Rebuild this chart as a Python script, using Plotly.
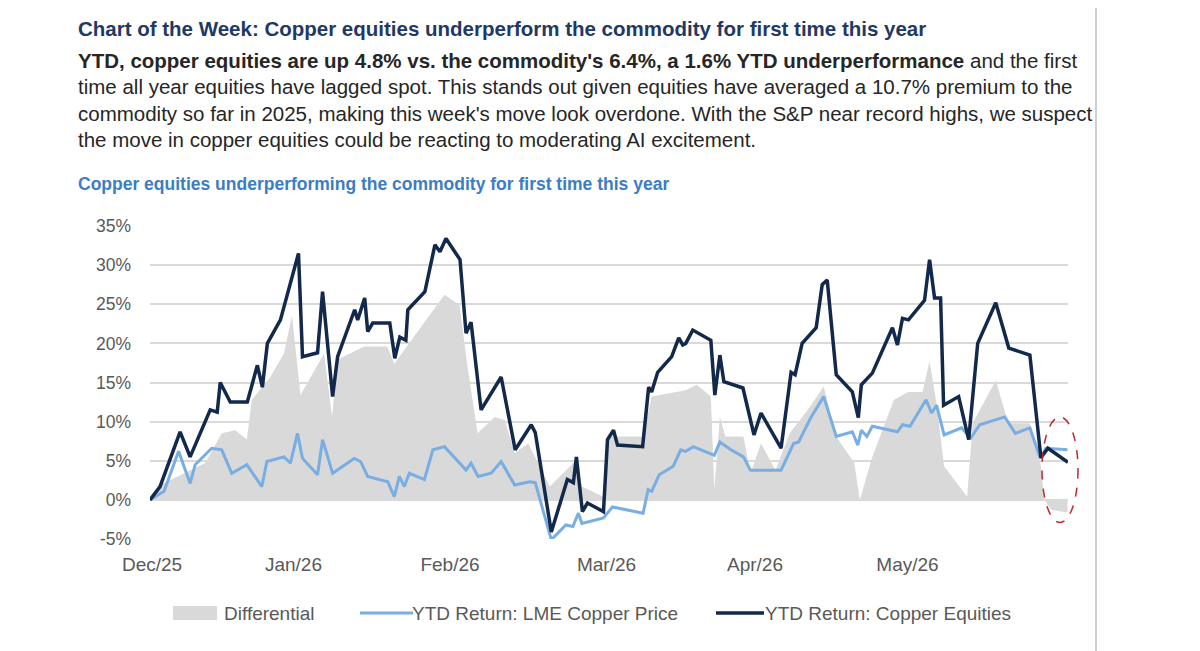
import plotly.graph_objects as go

eq_day = [0,2,6,8,12,13.4,14,16,19.4,21.4,22.4,23.4,26,29.6,30.4,33.4,34.4,36.4,37.4,40.8,41.4,42.8,43.4,44.4,47.8,48.8,49.8,51,51.4,54.8,56.8,57.8,59,61.8,63,64,66,70,72.8,76,
          76.8,80,83.2,84.4,85,86.2,87.2,90.4,91.2,92.4,93.2,98.2,99.4,100,101.2,104,105.4,106.2,106.8,108.2,111.8,112.6,113.6,114.4,118.2,120.4,121.8,125.8,127.8,128.6,130,132.8,134,135,136.8,140,141.2,141.8,144,148,149,150,151.2,154.4,155.4,156.4,157.6,158.2,161.2,163.2,165,168.6,171.2,175.4,177.6,179,183]
eq_val = [0,1.7,8.7,5.5,11.5,11.2,15,12.5,12.5,17.2,14.4,20,23,31.5,18.3,18.8,26.6,13.2,18.3,24.3,23,25.8,21.5,22.6,22.6,18.1,20.8,20.4,24.3,26.6,32.6,31.7,33.4,30.7,21.3,22.7,11.5,15.7,6.4,9.6,
          8.6,-4.1,2.6,2.2,5.5,-1.5,-0.4,-1.5,7.7,8.9,7,6.8,14.4,13.8,16.3,18.3,20.7,19.8,20,21.7,20.4,13.4,18.5,15.1,14.3,8.3,11.1,6.6,16.3,16,20,22,27.5,28.1,16,13.8,10.5,14.7,16.2,22,19.8,23.2,23,25.5,30.7,25.8,25.8,12.1,13.2,7.7,20,25.2,19.4,18.5,5.4,6.6,4.8]

lme_day = [0,2.8,5.7,8,9,12.3,14.3,16.3,19.3,22.3,23.3,26.7,28,29.4,30.4,33.4,34.4,36.4,40.7,42,43.4,47.4,48.7,49.7,50.7,51.7,54.7,56.4,58.7,63,64,65.4,68,70,72.7,75.7,
           76.8,80,82.9,84.3,85.4,86.1,90.4,92.2,98.3,99.3,100,101.5,104.3,105.8,106.8,108.3,112.5,113.6,115.8,118.3,119.7,125.8,128.3,129.3,131.8,134.3,136.8,140,141.1,141.8,142.9,144,149,150,151.5,154.7,155.8,156.8,158.3,161.8,163.6,165.4,170.4,172.5,175.4,177.5,178.6,182.9]
lme_val = [0,1.1,6.2,2.1,4.5,6.6,6.4,3.4,4.5,1.7,4.9,5.5,4.7,8.5,5.3,3.2,7.7,3.4,5.3,4.9,3.0,2.3,0.4,3.0,1.7,3.4,2.6,6.4,6.8,3.8,4.7,3.0,3.4,4.9,1.9,2.3,
           2.2,-5.1,-3.2,-3.4,-1.7,-3.0,-2.3,-0.9,-1.7,1.3,1.1,3.2,4.3,6.4,6.2,6.8,5.7,7.4,6.4,5.5,3.8,3.8,7.2,7.4,10.6,13.2,8.1,8.7,7.0,8.9,8.1,9.4,8.7,9.6,9.4,12.8,11.1,12.1,8.3,9.2,7.9,9.6,10.6,8.5,9.2,5.3,6.6,6.4]

diff_day = [0,2,11,14.3,17,19.3,20.3,24,26.7,28.3,30,33.3,34.7,36.3,37.3,42.7,47.3,48.7,54.7,58.7,61.7,63.3,65.3,68.7,70.7,72.7,75.4,
            79.7,84.7,86.1,90.4,91.5,98.3,100,106.8,109,111.8,112.5,113.6,114.7,118.3,119.7,121.8,124.7,127.5,131.1,134.3,136.8,140.4,141.5,144,148.3,151.1,154,155.4,156.8,158.3,162.9,164,168.6,171.1,175.4,177.5,178.3,179.7,182.9]
diff_val = [0,1.9,4.7,8.5,8.9,7.7,12.8,15.7,18.7,23.6,13.4,17,18.7,10.6,17.9,19.6,19.6,17.4,22.6,26.2,24.9,17,8.5,10.6,10.2,6,7.2,
            1.7,4.9,1.7,0.4,8.1,8.1,13.2,14,14.7,13.2,1.3,10.6,8.1,8.1,3.4,7.2,3.8,8.5,11.5,14.5,8.1,4.7,0,5.5,12.8,13.8,13.8,17.7,12.3,4.3,0.4,9.8,15.3,9.8,9.8,4.7,0,-1.3,-1.6]

tick_pos = [0.4, 28.6, 59.8, 91, 120.6, 151]
tick_text = ["Dec/25", "Jan/26", "Feb/26", "Mar/26", "Apr/26", "May/26"]
y_ticks = [-5, 0, 5, 10, 15, 20, 25, 30, 35]

NAVY = "#13294b"
LIGHT = "#78aee2"
GRAY = "#d9d9d9"
FONT = "Liberation Sans, Arial, sans-serif"

fig = go.Figure()
fig.add_trace(go.Scatter(x=diff_day, y=diff_val, fill="tozeroy", mode="lines",
                         line=dict(width=0, color=GRAY), fillcolor=GRAY, name="Differential"))
fig.add_trace(go.Scatter(x=lme_day, y=lme_val, mode="lines", line=dict(color=LIGHT, width=3),
                         name="YTD Return: LME Copper Price"))
fig.add_trace(go.Scatter(x=eq_day, y=eq_val, mode="lines", line=dict(color=NAVY, width=3.5),
                         name="YTD Return: Copper Equities"))

DX, DY = -10, -8   # page body offset compensation
L, R, T, B = 152, 1070, 226, 539
W, H = R - L, B - T
def px(x): return (x - L) / W
def py(y): return (B - y) / H

anns = []
def txt(x, y, s, size, color, bold=False, anchor="left"):
    anns.append(dict(xref="paper", yref="paper", x=px(x), y=py(y), text=("<b>%s</b>" % s) if bold else s,
                     showarrow=False, xanchor=anchor, yanchor="middle",
                     font=dict(family=FONT, size=size, color=color)))

txt(78, 29, "Chart of the Week: Copper equities underperform the commodity for first time this year", 20.5, "#1f3864", True)
txt(78, 61, "<b>YTD, copper equities are up 4.8% vs. the commodity's 6.4%, a 1.6% YTD underperformance</b> and the first", 20.5, "#262626")
txt(78, 87, "time all year equities have lagged spot. This stands out given equities have averaged a 10.7% premium to the", 20.5, "#262626")
txt(78, 113, "commodity so far in 2025, making this week's move look overdone. With the S&P near record highs, we suspect", 20.5, "#262626")
txt(78, 139, "the move in copper equities could be reacting to moderating AI excitement.", 20.5, "#262626")
txt(78, 184, "Copper equities underperforming the commodity for first time this year", 17.5, "#3b7dc4", True)
txt(224, 613, "Differential", 19, "#595959")
txt(412, 613, "YTD Return: LME Copper Price", 19, "#595959")
txt(765, 613, "YTD Return: Copper Equities", 19, "#595959")

shapes = [
    dict(type="rect", xref="paper", yref="paper", x0=px(175), x1=px(219), y0=py(620), y1=py(606),
         fillcolor=GRAY, line=dict(width=0)),
    dict(type="line", xref="paper", yref="paper", x0=px(362), x1=px(415), y0=py(613), y1=py(613),
         line=dict(color=LIGHT, width=3)),
    dict(type="line", xref="paper", yref="paper", x0=px(718), x1=px(766), y0=py(613), y1=py(613),
         line=dict(color=NAVY, width=3.5)),
    dict(type="circle", xref="paper", yref="y", x0=px(1044), x1=px(1080), y0=-2.9, y1=10.6,
         line=dict(color="#c0282d", width=1.5, dash="dash")),
    dict(type="line", xref="paper", yref="paper", x0=px(1098), x1=px(1098), y0=py(660), y1=py(-10),
         line=dict(color="#bfbfbf", width=1.5)),
]

fig.update_layout(
    width=1200, height=651, paper_bgcolor="white", plot_bgcolor="white",
    margin=dict(l=L + DX, r=1200 - R - DX, t=T + DY, b=651 - B - DY, autoexpand=False),
    showlegend=False, annotations=anns, shapes=shapes,
    font=dict(family=FONT, color="#595959"),
    xaxis=dict(range=[0, 183], tickvals=tick_pos, ticktext=tick_text, showgrid=False, zeroline=False,
               showline=False, ticks="", tickfont=dict(size=19, color="#595959"), ticklabelstandoff=12),
    yaxis=dict(range=[-5, 35], tickvals=y_ticks, ticktext=["%d%%" % v for v in y_ticks],
               showgrid=True, gridcolor="#d9d9d9", gridwidth=1.5, zeroline=False, showline=False, ticks="",
               tickfont=dict(size=17.5, color="#595959"), ticklabelstandoff=18),
)
fig.write_html("out.html")
